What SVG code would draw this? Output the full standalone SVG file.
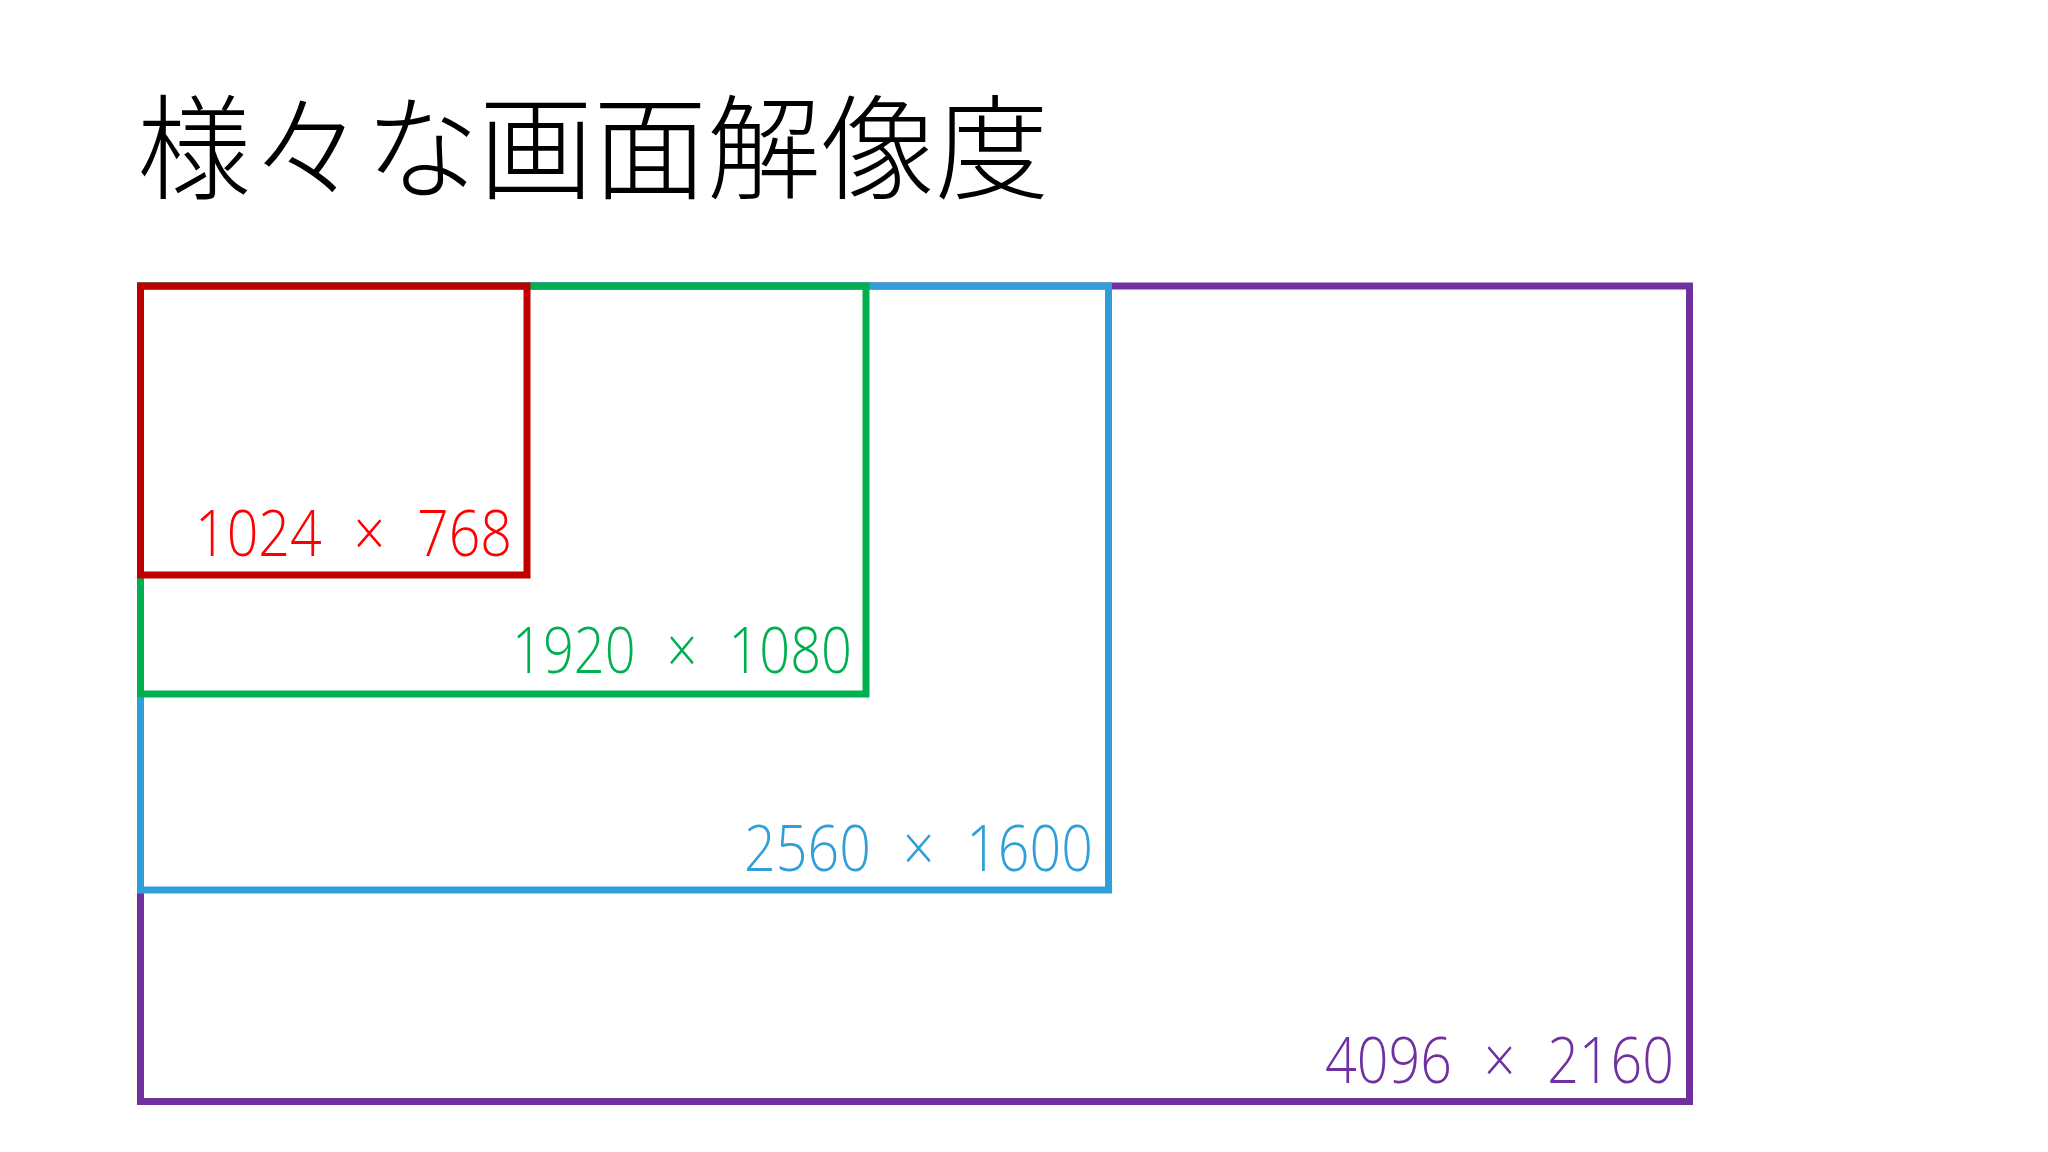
<svg xmlns="http://www.w3.org/2000/svg" width="2048" height="1152" viewBox="0 0 2048 1152">
<style>
.frame{fill:none;stroke-width:7}
.lbl{font-family:"Open Sans","Lato","Liberation Sans",sans-serif;font-weight:300;font-size:64px;word-spacing:20px}
.title{font-family:"Noto Sans CJK JP","Noto Sans",sans-serif;font-weight:300;font-size:114px;fill:#000}
</style>
<rect width="2048" height="1152" fill="#ffffff"/>
<text class="title" x="137" y="190" textLength="912" lengthAdjust="spacingAndGlyphs">様々な画面解像度</text>
<g id="res-4096">
<rect class="frame" x="140.5" y="286" width="1549" height="815.5" stroke="#7030A0"/>
<text class="lbl" x="1325" y="1083" fill="#7030A0" textLength="349" lengthAdjust="spacingAndGlyphs">4096 × 2160</text>
</g>
<g id="res-2560">
<rect class="frame" x="140.5" y="286" width="968" height="604" stroke="#2E9FD8"/>
<text class="lbl" x="744" y="871" fill="#2E9FD8" textLength="349" lengthAdjust="spacingAndGlyphs">2560 × 1600</text>
</g>
<g id="res-1920">
<rect class="frame" x="140.5" y="286" width="725.5" height="408" stroke="#00B050"/>
<text class="lbl" x="512" y="673" fill="#00B050" textLength="340" lengthAdjust="spacingAndGlyphs">1920 × 1080</text>
</g>
<g id="res-1024">
<rect class="frame" x="140.5" y="286" width="386.5" height="289" stroke="#C00000"/>
<text class="lbl" x="195" y="556" fill="#FF0000" textLength="317" lengthAdjust="spacingAndGlyphs">1024 × 768</text>
</g>
<g id="connectors"/>
</svg>
